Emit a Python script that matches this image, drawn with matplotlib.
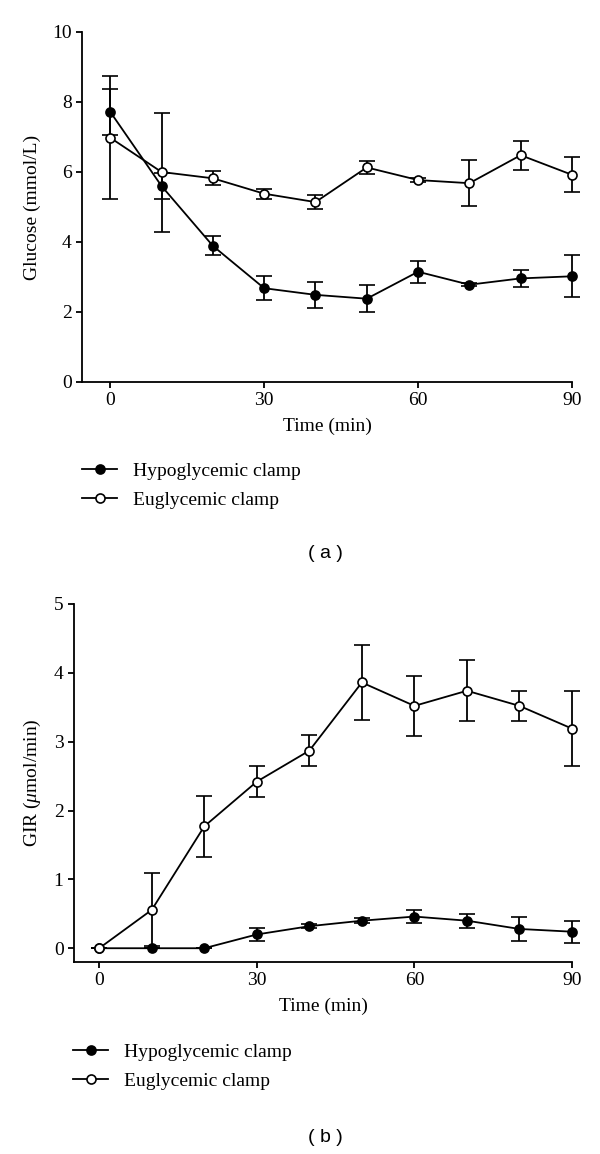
import numpy as np
import matplotlib
matplotlib.use("Agg")
import matplotlib.pyplot as plt

plt.rcParams['font.family'] = ['Liberation Serif', 'DejaVu Serif']
plt.rcParams['mathtext.fontset'] = 'custom'
plt.rcParams['mathtext.rm'] = 'Liberation Serif'
plt.rcParams['mathtext.it'] = 'Liberation Serif:italic'

# time points (min)
time = [0, 10, 20, 30, 40, 50, 60, 70, 80, 90]

# panel a: glucose (mmol/L)
glu_hypo = [7.72, 5.6, 3.89, 2.68, 2.49, 2.38, 3.15, 2.78, 2.96, 3.02]
glu_hypo_err = [0.65, 0.38, 0.27, 0.35, 0.37, 0.39, 0.31, 0.05, 0.25, 0.6]
glu_eu = [6.98, 6.0, 5.82, 5.38, 5.14, 6.13, 5.77, 5.68, 6.48, 5.92]
glu_eu_err = [1.75, 1.7, 0.2, 0.14, 0.2, 0.19, 0.05, 0.65, 0.42, 0.5]

# panel b: GIR (umol/min)
gir_hypo = [0, 0, 0, 0.2, 0.32, 0.40, 0.46, 0.40, 0.28, 0.24]
gir_hypo_err = [0, 0, 0, 0.1, 0.03, 0.04, 0.1, 0.1, 0.17, 0.16]
gir_eu = [0, 0.557, 1.77, 2.42, 2.87, 3.86, 3.52, 3.74, 3.52, 3.19]
gir_eu_err = [0, 0.53, 0.44, 0.22, 0.22, 0.55, 0.44, 0.44, 0.22, 0.55]

labels = ['Hypoglycemic clamp', 'Euglycemic clamp']

W, H = 600, 1154
fig = plt.figure(figsize=(W / 100, H / 100), dpi=100)


def fx(px):
    return px / W


def fy(py):
    return 1 - py / H


def draw_panel(ax, hypo, hypo_err, eu, eu_err):
    style = dict(color='black', lw=1.3, capsize=5.5, elinewidth=1.3,
                 capthick=1.3, ms=6.5, mew=1.2, clip_on=False)
    l1 = ax.errorbar(time, hypo, yerr=hypo_err, fmt='-o', mfc='black',
                     mec='black', zorder=3, **style)
    l2 = ax.errorbar(time, eu, yerr=eu_err, fmt='-o', mfc='white',
                     mec='black', zorder=4, **style)
    for s in ['top', 'right']:
        ax.spines[s].set_visible(False)
    for s in ['left', 'bottom']:
        ax.spines[s].set_linewidth(1.3)
    ax.tick_params(direction='out', length=4, width=1.3, labelsize=14)
    ax.set_xticks([0, 30, 60, 90])
    ax.set_xlabel('Time (min)', fontsize=14, labelpad=6)
    # legend shows only line + marker, no error bar
    return [l1[0], l2[0]]


# panel a
ax1 = fig.add_axes([fx(82), fy(382), fx(572 - 82), (382 - 32) / H])
h1 = draw_panel(ax1, glu_hypo, glu_hypo_err, glu_eu, glu_eu_err)
ax1.set_xlim(-5.5, 90)
ax1.set_ylim(0, 10)
ax1.set_yticks([0, 2, 4, 6, 8, 10])
ax1.set_ylabel('Glucose (mmol/L)', fontsize=14, labelpad=8)
fig.legend(h1, labels, loc='upper left', bbox_to_anchor=(fx(82), fy(462)),
           frameon=False, fontsize=14, handlelength=1.8, handletextpad=0.8,
           labelspacing=0.6, borderpad=0, borderaxespad=0)
fig.text(fx(325), fy(553), '( a )', ha='center', va='center', fontsize=14,
         family='Liberation Sans')

# panel b
ax2 = fig.add_axes([fx(74), fy(962), fx(572 - 74), (962 - 604) / H])
h2 = draw_panel(ax2, gir_hypo, gir_hypo_err, gir_eu, gir_eu_err)
ax2.set_xlim(-4.8, 90)
ax2.set_ylim(-0.2, 5)
ax2.set_yticks([0, 1, 2, 3, 4, 5])
ax2.set_ylabel(r'GIR ($\mu$mol/min)', fontsize=14, labelpad=8)
fig.legend(h2, labels, loc='upper left', bbox_to_anchor=(fx(73), fy(1043)),
           frameon=False, fontsize=14, handlelength=1.8, handletextpad=0.8,
           labelspacing=0.6, borderpad=0, borderaxespad=0)
fig.text(fx(325), fy(1138), '( b )', ha='center', va='center', fontsize=14,
         family='Liberation Sans')

fig.savefig('out.png', dpi=100)
